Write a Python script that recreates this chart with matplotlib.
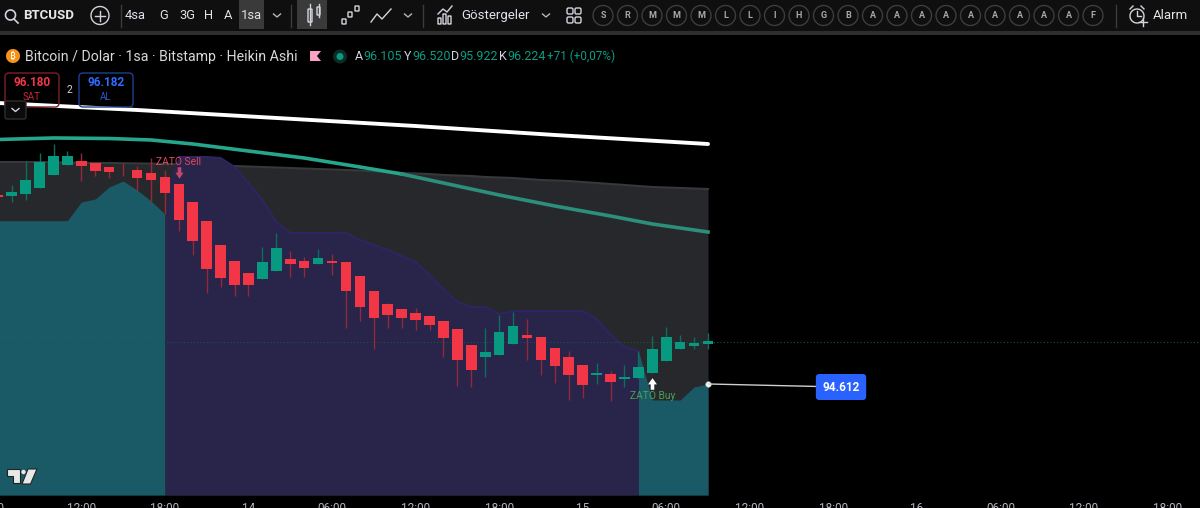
import matplotlib
matplotlib.use("Agg")
import matplotlib.pyplot as plt
import numpy as np
from matplotlib.patches import Rectangle, FancyBboxPatch, Polygon
from matplotlib.path import Path
from matplotlib.transforms import Affine2D

plt.rcParams['font.family'] = ['Roboto', 'DejaVu Sans']

# heikin ashi candles, one per hour
opens = [101882, 101843, 101895, 102151, 102650, 103021, 103187, 103098, 102944, 102880,
         102842, 102701, 102560, 102279, 101600, 100858, 99962, 99335, 98861, 98643,
         98951, 99399, 99335, 99207, 99322, 99309, 98746, 98183, 97671, 97479,
         97325, 97210, 97031, 96711, 96122, 95635, 95712, 96160, 96506, 96429,
         95981, 95648, 95328, 94957, 94995, 94816, 94842, 95047, 95495, 95943,
         96071, 96135]
closes = [101792, 101984, 102445, 103123, 103379, 103354, 102995, 102791, 102765, 102855,
          102522, 102432, 101959, 100909, 100115, 99015, 98695, 98413, 98426, 99283,
          99821, 99232, 99079, 99437, 99245, 98195, 97581, 97133, 97248, 97133,
          97069, 96877, 96365, 95520, 95149, 95827, 96595, 96851, 96365, 95520,
          95303, 94957, 94586, 95047, 94675, 94867, 95277, 95955, 96429, 96224,
          96186, 96263]
highs = [101900, 102253, 103187, 103469, 103815, 103571, 103495, 103098, 102944, 103085,
         102983, 103277, 102829, 102279, 101600, 100858, 99962, 99335, 98861, 99872,
         100410, 99706, 99501, 99795, 99603, 99309, 98746, 98183, 97735, 97479,
         97517, 97261, 97031, 96711, 96122, 96762, 97261, 97376, 97107, 96429,
         95981, 95891, 95328, 95418, 95111, 95354, 95879, 96442, 96787, 96506,
         96403, 96570]
lows = [101770, 101587, 101677, 102151, 102650, 103021, 102419, 102611, 102535, 102599,
        102035, 101613, 101139, 100499, 99578, 98119, 98336, 97991, 98003, 98643,
        98951, 98707, 98707, 99207, 98784, 96775, 97043, 95968, 96775, 96775,
        96672, 96685, 95661, 94547, 94509, 94893, 95712, 96160, 95520, 94957,
        94663, 93997, 94087, 94611, 93971, 94509, 94842, 95047, 95495, 95943,
        95968, 95968]

# zato band
band_upper = [103136, 103136, 103136, 103136, 103124, 103117, 103105, 103098, 103098, 103090,
              103082, 103075, 103059, 103048, 103036, 103021, 103002, 102982, 102963, 102944,
              102925, 102906, 102886, 102867, 102848, 102829, 102810, 102771, 102752, 102714,
              102694, 102675, 102637, 102618, 102598, 102560, 102541, 102522, 102483, 102445,
              102426, 102406, 102368, 102330, 102291, 102253, 102214, 102176, 102157, 102138,
              102118, 102099]
teal_a_idx = list(range(0, 13))
teal_a = [100882, 100882, 100882, 100882, 100882, 100882, 101600, 101715, 102176, 102406,
          102061, 101638, 101139]
purple_idx = [12, 12.4] + list(range(13, 47))
purple = [101139, 102714, 103328, 103328, 103328, 103290, 102944, 102330, 101677, 100832, 100410,
          100410, 100410, 100410, 100410, 100141, 99949, 99757, 99526, 99296, 98797,
          98259, 97760, 97568, 97568, 97299, 97414, 97414, 97414, 97414, 97414,
          97414, 97107, 96493, 96032, 95878]
teal_b_idx = list(range(46, 52))
teal_b = [95878, 93997, 93997, 93997, 94496, 94612]

# moving averages
white_idx = [0, 10, 20, 30, 40, 51]
white_ma = [105402, 105133, 104826, 104518, 104173, 103827]
green_idx = [0, 4, 8, 11, 14, 18, 22, 26, 29, 33, 36, 40, 44, 47, 51]
green_ma = [104000, 104058, 104038, 103981, 103827, 103558, 103290, 102944, 102675, 102214,
            101869, 101446, 101062, 100755, 100448]

last_price = 96224
stop_price = 94612
sell_bar = 13
buy_bar = 47

tick_pos = list(range(6, 85, 6))
tick_labels = ['12:00', '18:00', '14', '06:00', '12:00', '18:00', '15', '06:00',
               '12:00', '18:00', '16', '06:00', '12:00', '18:00']

intervals = [('4sa', 135), ('G', 164), ('3G', 187), ('H', 209), ('A', 228), ('1sa', 251)]
fav_letters = list('SRMMMLLIHGBAAAAAAAAAF')
ohlc_text = [('A', '96.105', 355), ('Y', '96.520', 404), ('D', '95.922', 451), ('K', '96.224', 499)]

UP = '#089981'
DOWN = '#F23645'

fig = plt.figure(figsize=(12, 5.08), dpi=100, facecolor='black')
ax = fig.add_axes([0, 13 / 508, 1, 459 / 508], facecolor='black')
for s in ax.spines.values():
    s.set_visible(False)
ax.set_yticks([])
ax.set_xticks(tick_pos)
ax.set_xticklabels(tick_labels)
ax.tick_params(axis='x', length=0, pad=5, labelsize=8.5, labelcolor='#b2b5be')
# set_xticks widens the limits, so these come after it
ax.set_xlim(2.2 / 13.926, 1202.2 / 13.926)
ax.set_ylim(90349, 107974)

bars = np.arange(len(opens))
bottom = 90349

# band fills
ax.fill_between(bars, bottom, band_upper, color='#27282c', lw=0, zorder=1)
ax.plot(bars, band_upper, color='#37383c', lw=1.5, zorder=1.5)
ax.fill_between(teal_a_idx, bottom, teal_a, color='#1a5a66', lw=0, zorder=2)
ax.fill_between(purple_idx, bottom, purple, color='#28244a', lw=0, zorder=2)
ax.fill_between(teal_b_idx, bottom, teal_b, color='#1a5a66', lw=0, zorder=2)
ax.plot(purple_idx[2:], purple[2:], color='#2b2660', lw=1.5, zorder=2.2)

# moving averages
ax.plot(white_idx, white_ma, color='white', lw=2.8, zorder=5, solid_capstyle='round')
ax.plot(green_idx[:9], green_ma[:9], color='#26a68c', lw=2.6, zorder=3)
ax.plot(green_idx[8:], green_ma[8:], color='#2b8f7c', lw=2.6, zorder=3)

ax.axhline(last_price, color='#0d5a4c', lw=0.8, ls=(0, (1, 2)), zorder=2.5)

# candles
for i in bars:
    up = closes[i] >= opens[i]
    ax.vlines(i, lows[i], highs[i], color='#0b6f5e' if up else '#93293a', lw=1, zorder=3.5)
    ax.bar(i, abs(closes[i] - opens[i]), bottom=min(opens[i], closes[i]), width=0.76,
           color=UP if up else DOWN, lw=0, zorder=4)

# signals
arrow_down = Path([(-.45, .1), (-.2, .1), (-.2, .7), (.2, .7), (.2, .1), (.45, .1), (0, -.6), (-.45, .1)])
arrow_up = Path([(-.5, -.1), (-.2, -.1), (-.2, -.7), (.2, -.7), (.2, -.1), (.5, -.1), (0, .6), (-.5, -.1)])
ax.plot([sell_bar], [102714], marker=arrow_down, ms=9, color='#c8456a', mew=0, zorder=6)
ax.text(sell_bar, 103136, 'ZATO Sell', color='#e2465f', fontsize=7.4, ha='center', va='center', zorder=6)
ax.plot([buy_bar], [94650], marker=arrow_up, ms=9, color='white', mew=0, zorder=6)
ax.text(buy_bar, 94150, 'ZATO Buy', color='#4c9f58', fontsize=7.4, ha='center', va='center', zorder=6)

# drawn stop label
ax.plot([51], [stop_price], marker='o', ms=4, color='white', mec='#8fb0b0', mew=0.5, zorder=7)
ax.annotate('94.612', xy=(51, stop_price), xytext=(60.55, 94496), color='white', fontsize=8.5,
            fontweight='bold', ha='center', va='center', zorder=7,
            bbox=dict(boxstyle='round,pad=0.55,rounding_size=0.3', fc='#2962FF', ec='none'),
            arrowprops=dict(arrowstyle='-', color='#cfcfcf', lw=1, shrinkA=0, shrinkB=0))

# pixel coords for the tradingview chrome
px = Affine2D().scale(1 / 1200, -1 / 508).translate(0, 1) + fig.transFigure


def rect(x, y, w, h, color):
    fig.add_artist(Rectangle((x, y), w, h, transform=px, fc=color, ec='none'))


def line(xs, ys, color='#d1d4dc', lw=1.0):
    fig.add_artist(plt.Line2D(xs, ys, transform=px, color=color, lw=lw))


def circle(x, y, r, ec='#d1d4dc', fc='none', lw=1.0):
    th = np.linspace(0, 2 * np.pi, 50)
    fig.add_artist(Polygon(np.c_[x + r * np.cos(th), y + r * np.sin(th)], transform=px,
                           fc=fc, ec=ec, lw=lw))


def label(x, y, s, color='#d1d4dc', size=9, ha='center', weight='normal', family=None):
    fig.text(x, y, s, transform=px, color=color, fontsize=size, ha=ha, va='center',
             fontweight=weight, family=family)


def box(x, y, w, h, ec, fc='none', r=3, lw=1.0):
    fig.add_artist(FancyBboxPatch((x, y), w, h, boxstyle=f'round,pad=0,rounding_size={r}',
                                  transform=px, fc=fc, ec=ec, lw=lw))


def chevron(x, y, color='#b2b5be'):
    line([x - 3.5, x, x + 3.5], [y - 1.5, y + 1.5, y - 1.5], color=color)


# first time label sits left of the xlim, the axis would drop it
label(-2, 508, '00', color='#b2b5be', size=8.5)

# toolbar
rect(0, 0, 1200, 31, '#0f0f0f')
rect(0, 31, 1200, 4, '#2e2e2e')
rect(239, 0, 25, 29, '#3a3a3a')
rect(297, 0, 30, 29, '#3a3a3a')
for sx in [121, 291, 423, 1116]:
    line([sx, sx], [5, 27], color='#3c3c3c')

circle(10.5, 15, 5, lw=1.2)
line([14, 18], [19, 23], lw=1.2)
label(23, 15.5, 'BTCUSD', color='#e6e6e6', size=9.5, ha='left', weight='bold')
circle(100, 15.5, 9, lw=1.0)
line([95, 105], [15.5, 15.5])
line([100, 100], [10.5, 20.5])
for txt, cx in intervals:
    label(cx, 15.5, txt, color='#e0e3eb', size=9.3)
chevron(277, 15.5)
chevron(408, 15.5)
chevron(546, 15.5)

# chart type icons
box(308, 9, 4, 13, '#d1d4dc', r=0.5)
line([310, 310], [4, 25])
box(317, 7, 3, 8, '#d1d4dc', r=0.5)
line([318.5, 318.5], [4, 17])
for bx, by in [(342, 19), (348, 12), (355, 6)]:
    box(bx, by, 4, 5, '#d1d4dc', r=0.5)
line([371, 377, 382, 391], [22, 14, 19, 9])
# indicators icon
line([438, 443, 447, 452], [14, 9, 12, 6])
for bx, bh in [(438, 6), (443, 10), (448, 8)]:
    box(bx, 24 - bh, 3, bh, '#d1d4dc', r=0.3)
label(461, 15.5, 'Göstergeler', color='#e0e3eb', size=9.5, ha='left')
for gx, gy in [(567, 8), (575, 8), (567, 17), (575, 17)]:
    box(gx, gy, 6, 6, '#d1d4dc', r=1.5)

for j, ch in enumerate(fav_letters):
    cx = 603 + j * 24.5
    circle(cx, 15.5, 10, ec='#3d3d3d', lw=1)
    label(cx, 15.5, ch, color='#a8a8a8', size=6.5, weight='bold')

circle(1137, 16, 7, lw=1)
line([1137, 1137, 1141], [11, 16, 16])
line([1130, 1133], [9, 6])
line([1144, 1141], [9, 6])
line([1143, 1143], [18, 26])
line([1139, 1147], [22, 22])
label(1153, 15.5, 'Alarm', color='#e6e6e6', size=9.5, ha='left')

# symbol legend row
circle(13, 56, 7, ec='none', fc='#f7931a')
label(13, 56, '₿', color='white', size=7, weight='bold', family=['Noto Sans', 'Open Sans', 'Inter', 'DejaVu Sans'])
label(25, 56.5, 'Bitcoin / Dolar · 1sa · Bitstamp · Heikin Ashi', color='#d8d8d8', size=10.2, ha='left')
fig.add_artist(Polygon([(310, 51), (321, 51), (317, 56), (321, 61), (310, 61)], transform=px,
                       fc='#f7a1c4', ec='none'))
circle(340, 56.5, 7, ec='none', fc='#0c2a26')
circle(340, 56.5, 3.5, ec='none', fc=UP)
for letter, val, lx in ohlc_text:
    label(lx, 56.5, letter, color='#d1d4dc', size=9, ha='left')
    label(lx + 8, 56.5, val, color='#0a9c84', size=9, ha='left')
label(547, 56.5, '+71 (+0,07%)', color='#0a9c84', size=8.5, ha='left')

box(5, 73, 54, 34, '#7a1f2a', r=4)
label(32, 83, '96.180', color=DOWN, size=8.5, weight='bold')
label(32, 97, 'SAT', color='#c8263a', size=7)
label(69, 90, '2', color='#d1d4dc', size=7.5)
box(79, 73, 54, 34, '#1f3f8f', r=4)
label(106, 83, '96.182', color='#2f6bff', size=8.5, weight='bold')
label(106, 97, 'AL', color='#2a57c9', size=7)

# collapse button
box(5, 101, 21, 18, '#2e2e2e', fc='#0b0b0b', r=2)
chevron(15.5, 110, color='#d1d4dc')

# tv logo
fig.add_artist(Polygon([(7, 469), (20, 469), (20, 483), (13, 483), (13, 476), (7, 476)], transform=px,
                       fc='#e8e8e8', ec='#222222', lw=0.8))
circle(23.5, 472, 2.2, ec='none', fc='#e8e8e8')
fig.add_artist(Polygon([(28, 469), (37, 469), (30.5, 484), (22, 484)], transform=px,
                       fc='#e8e8e8', ec='#222222', lw=0.8))

fig.savefig('out.png', dpi=100, facecolor='black')
